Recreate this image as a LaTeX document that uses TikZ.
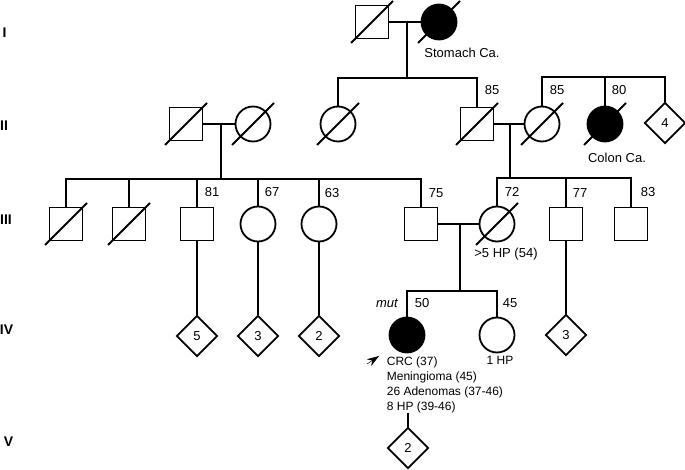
\documentclass[tikz,border=0pt]{standalone}
\usepackage{fontspec}
\setmainfont{Liberation Sans}
\usetikzlibrary{shapes,arrows.meta}
\tikzset{
    male/.style ={rectangle, draw, minimum size=33pt, inner sep=0pt},
    female/.style ={circle, draw, minimum size=35pt, inner sep=0pt},
    many/.style ={diamond, draw, minimum size=41pt, inner sep=0pt, font=\fontsize{13}{15}\selectfont},
    affected/.style = {fill=black},
    age/.style = {inner sep=0pt, font=\fontsize{13}{15}\selectfont},
    note/.style = {inner sep=0pt, font=\fontsize{13}{15}\selectfont},
    gen/.style = {inner sep=0pt, font=\fontsize{14}{16}\selectfont\bfseries}
}
\begin{document}
\begin{tikzpicture}[x=1pt, y=-1pt, line width=1.8pt]
    \useasboundingbox (0,0) rectangle (685,470);
    \node (gI) [gen] at (4.5,33) {I};
    \node (gII) [gen] at (4,126) {II};
    \node (gIII) [gen] at (6,220) {III};
    \node (gIV) [gen] at (6.5,330) {IV};
    \node (gV) [gen] at (8.5,442) {V};

    \node (I1) [male] at (372,22) {};
    \node (I2) [female, affected] at (439,22) {};

    \node (II1) [male] at (186,124) {};
    \node (II2) [female] at (253,124) {};
    \node (II3) [female] at (338,124) {};
    \node (II4) [male] at (477,124) {};
    \node (II5) [female] at (542,124) {};
    \node (II6) [female, affected] at (605,124) {};
    \node (II7) [many] at (665,123) {4};

    \node (III1) [male] at (66,224) {};
    \node (III2) [male] at (129,224) {};
    \node (III3) [male] at (197,224) {};
    \node (III4) [female] at (258,224) {};
    \node (III5) [female] at (319,224) {};
    \node (III6) [male] at (421,224) {};
    \node (III7) [female] at (497,224) {};
    \node (III8) [male] at (566,224) {};
    \node (III9) [male] at (631,224) {};

    \node (IV1) [many] at (197,336) {5};
    \node (IV2) [many] at (258,336) {3};
    \node (IV3) [many] at (319,336) {2};
    \node (IV4) [female, affected] at (407,335) {};
    \node (IV5) [female] at (497,335) {};
    \node (IV6) [many] at (566,335) {3};

    \node (V1) [many] at (408,448) {2};

    \coordinate (m1) at (407,22);  \coordinate (s1) at (407,78);
    \coordinate (m2) at (221,124); \coordinate (s2) at (221,179);
    \coordinate (s3) at (605,77);
    \coordinate (m4) at (510,124); \coordinate (s4) at (510,178);
    \coordinate (m5) at (460,224); \coordinate (s5) at (460,291);
    \coordinate (t1) at (408,413);
    \coordinate (pb1) at (367,364); \coordinate (pb2) at (379,356);

    \path (I1) edge (I2) (m1) edge (s1);
    \draw (s1) -| (II3); \draw (s1) -| (II4);
    \path (II1) edge (II2) (m2) edge (s2);
    \foreach \c in {III1,III2,III3,III4,III5,III6} \draw (s2) -| (\c);
    \foreach \c in {II5,II6,II7} \draw (s3) -| (\c);
    \path (II4) edge (II5) (m4) edge (s4);
    \foreach \c in {III7,III8,III9} \draw (s4) -| (\c);
    \path (III6) edge (III7) (m5) edge (s5);
    \draw (s5) -| (IV4); \draw (s5) -| (IV5);
    \path (III3) edge (IV1) (III4) edge (IV2) (III5) edge (IV3) (III8) edge (IV6) (t1) edge (V1);

    \foreach \n in {I1,I2,II1,II2,II3,II4,II5,II6,III1,III2,III7}
        \draw (\n.center) ++(-21,21) -- ++(42,-42);

    \node (a85a) [age] at (492,90) {85};
    \node (a85b) [age] at (557,90) {85};
    \node (a80) [age] at (619,90) {80};
    \node (a81) [age] at (212,192) {81};
    \node (a67) [age] at (272,192) {67};
    \node (a63) [age] at (332,193) {63};
    \node (a75) [age] at (436,193) {75};
    \node (a72) [age] at (512,192) {72};
    \node (a77) [age] at (580,193) {77};
    \node (a83) [age] at (648,192) {83};
    \node (a50) [age] at (422,303) {50};
    \node (a45) [age] at (510,303) {45};
    \node (mut) [age, font=\fontsize{13}{15}\selectfont\itshape] at (387,303) {mut};

    \node (stomach) [note] at (462,53) {Stomach Ca.};
    \node (colon) [note] at (617,158) {Colon Ca.};
    \node (hp72) [note] at (506,254) {>5 HP (54)};
    \node (hp45) [note, font=\fontsize{12}{14}\selectfont] at (500,360) {1 HP};
    \node (pbtext) [note, align=left, anchor=north west, font=\fontsize{12}{15}\selectfont] at (386,355.5)
        {CRC (37)\\Meningioma (45)\\26 Adenomas (37-46)\\8 HP (39-46)};

    \draw[-{Stealth[length=12pt, width=8pt]}, line width=0.5pt] (pb1) -- (pb2);
\end{tikzpicture}
\end{document}
